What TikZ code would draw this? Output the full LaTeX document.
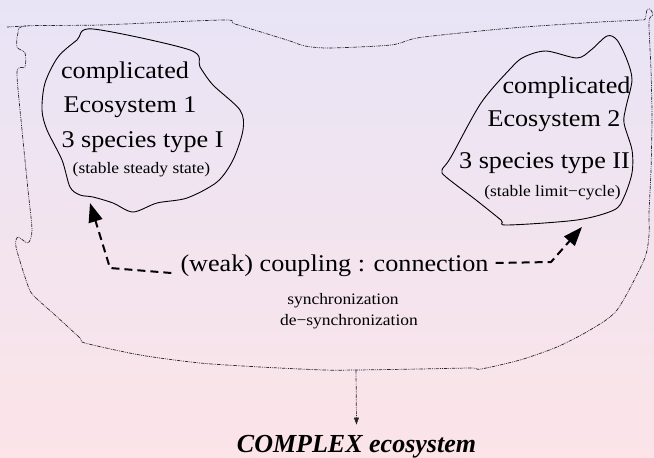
\documentclass[tikz,border=0pt]{standalone}
\usepackage{fontspec}
\setmainfont{Liberation Serif}
\newfontfamily\strfont[FakeStretch=1.09]{Liberation Serif}
\usetikzlibrary{arrows.meta}
\definecolor{bgtop}{HTML}{E8E4F6}
\definecolor{bgbot}{HTML}{FCE4E8}
\begin{document}
\begin{tikzpicture}[x=1pt,y=-1pt,
  big/.style={font=\strfont\fontsize{24}{26}\selectfont, inner sep=0pt, anchor=base},
  small/.style={font=\strfont\fontsize{16}{18}\selectfont, inner sep=0pt, anchor=base},
  outline/.style={draw=black!85, line width=0.7pt, dash pattern=on 3.5pt off 1pt on 0.8pt off 1pt on 0.8pt off 1pt},
  blob/.style={draw, line width=0.9pt},
  coup/.style={line width=2pt, dash pattern=on 8pt off 5pt, -{Triangle[length=19pt,width=14pt]}}]
\useasboundingbox (0,0) rectangle (654,458);
\shade[top color=bgtop, bottom color=bgbot] (0,0) rectangle (654,458);
% big outline
\draw[outline] (7,27) -- (26,26);
\draw[outline] plot[smooth cycle, tension=0.45] coordinates {
 (26,26) (100,25) (223,20) (235,24) (287,40) (305,46) (330,48) (391,45) (417,38)
 (470,32) (524,27) (600,22) (641,20) (645,19) (647,10) (650,9) (653,15) (649,22)
 (651,70) (652,117) (651,170) (649,213) (649,235) (644,260) (617,310) (590,330)
 (557,347) (520,360) (481,369) (471,368) (420,369) (356,370) (324,370) (260,367)
 (200,363) (140,355) (85,343) (80,338) (55,315) (33,295) (27,283) (16,247) (18,237)
 (28,243) (32,230) (28,190) (22,130) (17,72) (25,67) (25,53) (17,47) (18,33)};
% blobs
\draw[blob] plot[smooth cycle, tension=0.5] coordinates {
 (93,29) (190,50) (200,67) (213,85) (240,110) (243,130) (233,160) (217,182)
 (187,198) (157,203) (133,212) (113,203) (93,197) (80,195) (70,187) (62,160)
 (47,130) (42,110) (45,83) (58,57) (77,40)};
\draw[blob] plot[smooth cycle, tension=0.5] coordinates {
 (546,51) (577,58) (591,50) (607,36) (617,40) (627,60) (632,80) (626,107)
 (624,123) (632,150) (632,173) (624,197) (614,210) (577,220) (507,225) (501,220)
 (476,200) (446,177) (442,170) (451,157) (481,103) (511,68) (524,57)};
% texts
\node[big] (l1) at (125,78) {complicated};
\node[big] (l2) at (130,112) {Ecosystem 1};
\node[big] (l3) at (142.5,147) {3 species type I};
\node[small] (l4) at (141.5,173) {(stable steady state)};
\node[big] (r1) at (566.5,93) {complicated};
\node[big] (r2) at (554,126) {Ecosystem 2};
\node[big] (r3) at (544.5,168) {3 species type II};
\node[small] (r4) at (552.5,196) {(stable limit−cycle)};
\node[big] (conn) at (334.5,271) {(weak) coupling : connection};
\node[small] (sync) at (343,304) {synchronization};
\node[small] (desync) at (349,325) {de−synchronization};
\node[font=\fontsize{26}{28}\selectfont\bfseries\itshape, inner sep=0pt, anchor=base] (cx) at (356.5,452) {COMPLEX ecosystem};
% coupling arrows
\coordinate (lk) at (110,268);
\coordinate (lt) at (90,203);
\coordinate (rk) at (551,262);
\coordinate (rt) at (582,227);
\draw[coup] ([xshift=-9pt,yshift=-2pt]conn.base west) -- (lk) -- (lt);
\draw[coup] ([xshift=7pt,yshift=8pt]conn.base east) -- (rk) -- (rt);
% output arrow
\coordinate (ob) at (356,370);
\draw[outline, -{Triangle[length=7pt,width=5pt]}] (ob) -- ([yshift=10pt]cx.north);
\end{tikzpicture}
\end{document}
